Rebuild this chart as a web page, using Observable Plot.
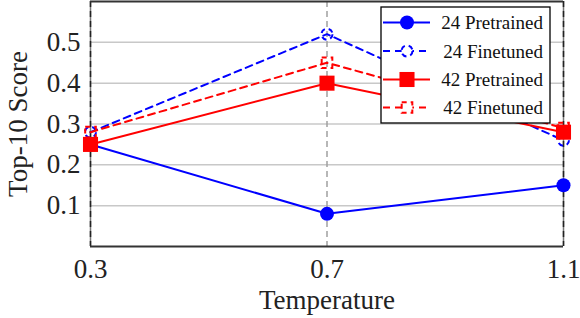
<!DOCTYPE html>
<html>
<head>
<meta charset="utf-8">
<script src="https://cdn.jsdelivr.net/npm/d3@7"></script>
<script src="https://cdn.jsdelivr.net/npm/@observablehq/plot@0.6"></script>
<style>
  html, body { margin: 0; padding: 0; background: #fff; }
  #wrap { position: relative; width: 580px; height: 318px; overflow: hidden; }
  #legend { position: absolute; left: 0; top: 0; }
</style>
</head>
<body>
<div id="wrap"></div>
<script>
// ---- data ----
const temps = [0.3, 0.7, 1.1];
const pre24 = [0.25, 0.08, 0.15];
const fine24 = [0.28, 0.52, 0.26];
const pre42 = [0.25, 0.40, 0.28];
const fine42 = [0.28, 0.45, 0.29];
const seriesNames = ["24 Pretrained", "24 Finetuned", "42 Pretrained", "42 Finetuned"];
const seriesValues = [pre24, fine24, pre42, fine42];
const seriesColors = ["#0000ff", "#0000ff", "#ff0000", "#ff0000"];
const seriesSymbols = ["circle", "circle", "square", "square"];
const seriesDashed = [false, true, false, true];
const yTicks = [0.1, 0.2, 0.3, 0.4, 0.5];
const xLabel = "Temperature";
const yLabel = "Top-10 Score";

const font = "'Liberation Serif', 'Times New Roman', serif";

const rows = [];
seriesNames.forEach((s, i) => temps.forEach((t, j) => rows.push({series: s, idx: i, t, v: seriesValues[i][j]})));

const marks = [
  Plot.gridY(yTicks, {stroke: "#c8c8c8", strokeOpacity: 1, strokeWidth: 1.5}),
  Plot.ruleX([temps[1]], {stroke: "#a0a0a0", strokeWidth: 1.5, strokeDasharray: "6,4"}),
  Plot.ruleX([temps[0], temps[2]], {stroke: "#777", strokeWidth: 1.5}),
  Plot.ruleX([temps[0], temps[2]], {stroke: "#222", strokeWidth: 1.5, strokeDasharray: "6,4"}),
  Plot.ruleY([0], {stroke: "#333", strokeWidth: 2}),
  Plot.ruleY([0.6], {stroke: "#333", strokeWidth: 2}),
];

seriesNames.forEach((s, i) => {
  const d = rows.filter(r => r.idx === i);
  marks.push(Plot.line(d, {x: "t", y: "v", stroke: seriesColors[i], strokeWidth: 2,
    strokeDasharray: seriesDashed[i] ? "7,5" : null}));
  const isSq = seriesSymbols[i] === "square";
  if (seriesDashed[i]) {
    marks.push(Plot.dot(d, {x: "t", y: "v", symbol: seriesSymbols[i], r: isSq ? 6 : 5.5,
      fill: "none", stroke: seriesColors[i], strokeWidth: 2, strokeDasharray: "5,4"}));
  } else {
    marks.push(Plot.dot(d, {x: "t", y: "v", symbol: seriesSymbols[i], r: isSq ? 8.5 : 7,
      fill: seriesColors[i], stroke: "none"}));
  }
});

marks.push(
  Plot.axisY({ticks: yTicks, tickSize: 0, tickPadding: 10, tickFormat: d => d.toFixed(1),
    fontSize: 27, label: yLabel, labelAnchor: "center", labelOffset: 83, labelArrow: "none"}),
  Plot.axisX({ticks: temps, tickSize: 0, tickPadding: 12, tickFormat: d => d.toFixed(1),
    fontSize: 27, label: xLabel, labelAnchor: "center", labelOffset: 62, labelArrow: "none"})
);

const chart = Plot.plot({
  width: 580, height: 318,
  marginLeft: 90, marginRight: 17, marginTop: 1, marginBottom: 72,
  x: {domain: [0.3, 1.1]},
  y: {domain: [0, 0.6]},
  style: {fontFamily: font, fontSize: "27px", color: "#222", background: "white", overflow: "visible"},
  marks
});
document.getElementById("wrap").appendChild(chart);

// ---- legend overlay ----
const lg = d3.select("#wrap").append("svg").attr("id", "legend")
  .attr("width", 580).attr("height", 318);
const bx = 381, by = 7, bw = 169, bh = 116;
lg.append("rect").attr("x", bx).attr("y", by).attr("width", bw).attr("height", bh)
  .attr("fill", "white").attr("stroke", "#000").attr("stroke-width", 1.3);
const rowY = [22.5, 51, 79.5, 107.5];
seriesNames.forEach((s, i) => {
  const g = lg.append("g");
  const y = rowY[i];
  g.append("line").attr("x1", 383).attr("x2", 430).attr("y1", y).attr("y2", y)
    .attr("stroke", seriesColors[i]).attr("stroke-width", 2)
    .attr("stroke-dasharray", seriesDashed[i] ? "7,5" : null);
  const isSq = seriesSymbols[i] === "square";
  const sym = d3.symbol(isSq ? d3.symbolSquare : d3.symbolCircle,
    Math.PI * Math.pow(seriesDashed[i] ? (isSq ? 6 : 5.5) : (isSq ? 8.5 : 7), 2));
  const p = g.append("path").attr("d", sym()).attr("transform", `translate(407,${y})`);
  if (seriesDashed[i]) {
    p.attr("fill", "white").attr("stroke", seriesColors[i]).attr("stroke-width", 2).attr("stroke-dasharray", "5,4");
  } else {
    p.attr("fill", seriesColors[i]);
  }
  g.append("text").attr("x", 543).attr("y", y).attr("dy", "0.35em")
    .attr("text-anchor", "end").attr("font-family", font).attr("font-size", 19)
    .attr("fill", "#111").text(s);
});
</script>
</body>
</html>
